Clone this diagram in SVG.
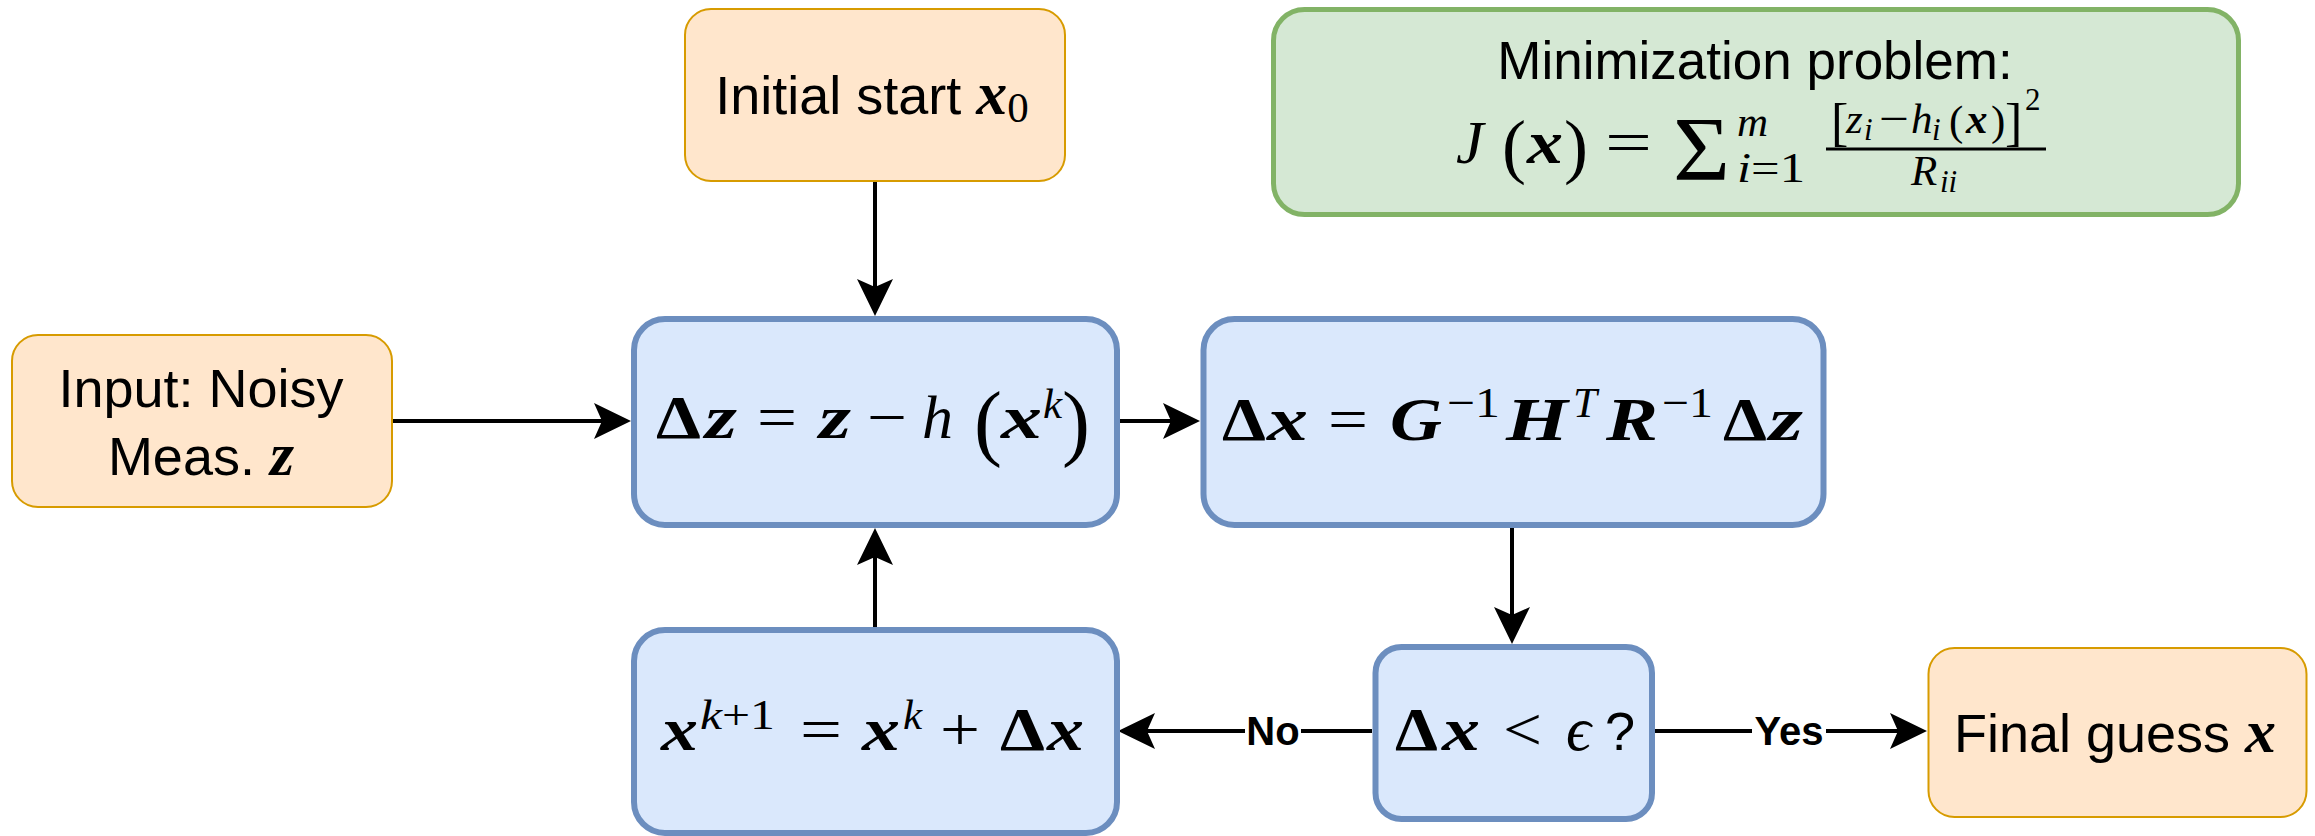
<svg xmlns="http://www.w3.org/2000/svg" width="2315" height="836" viewBox="0 0 2315 836">
<style>
.orange{fill:#ffe6cc;stroke:#d79b00;stroke-width:2}
.blue{fill:#dae8fc;stroke:#6c8ebf;stroke-width:6}
.green{fill:#d5e8d4;stroke:#82b366;stroke-width:5}
.sans{font-family:"Liberation Sans",Arial,sans-serif;font-size:54px;fill:#000}
.lbl{font-family:"Liberation Sans",Arial,sans-serif;font-size:40px;font-weight:bold;fill:#000}
.m{font-family:"Liberation Serif","Times New Roman",serif;font-size:62px;fill:#000}
.s{font-size:43px}
.ss{font-size:31px}
.bi{font-weight:bold;font-style:italic}
.it{font-style:italic}
.b{font-weight:bold}
.edge{fill:none;stroke:#000;stroke-width:4}
.bg{fill:#fff}
</style>
<defs>
<marker id="arr" markerUnits="userSpaceOnUse" markerWidth="40" markerHeight="40" viewBox="0 -20 40 40" refX="8" refY="0" orient="auto">
<path d="M37,0 L0,-18 L8,0 L0,18 Z" fill="#000"/>
</marker>
</defs>

<g id="connectors">
<path class="edge" d="M875,181 L875,287" marker-end="url(#arr)"/>
<path class="edge" d="M392,421 L602,421" marker-end="url(#arr)"/>
<path class="edge" d="M1120,421 L1171,421" marker-end="url(#arr)"/>
<path class="edge" d="M1512,528 L1512,615" marker-end="url(#arr)"/>
<path class="edge" d="M1372,731 L1147,731" marker-end="url(#arr)"/>
<path class="edge" d="M875,627 L875,557" marker-end="url(#arr)"/>
<path class="edge" d="M1655,731 L1898,731" marker-end="url(#arr)"/>
<g id="label-no"><rect class="bg" x="1245" y="712" width="56" height="38"/><text class="lbl" x="1273" y="745" text-anchor="middle">No</text></g>
<g id="label-yes"><rect class="bg" x="1752" y="712" width="74" height="38"/><text class="lbl" x="1789" y="745" text-anchor="middle">Yes</text></g>
</g>

<g id="node-initial">
<rect class="orange" x="685" y="9" width="380" height="172" rx="26"/>
<text class="sans" x="872" y="114" text-anchor="middle">Initial start <tspan class="m bi">x</tspan><tspan class="m s" dy="8">0</tspan></text>
</g>

<g id="node-minimization">
<rect class="green" x="1273.5" y="9.5" width="965" height="205" rx="31"/>
<text class="sans" x="1755" y="79" text-anchor="middle" style="font-size:53px">Minimization problem:</text>
<text class="m it" x="1456" y="163">J</text>
<text class="m" x="1502" y="170" style="font-size:72px">(</text>
<text class="m bi" x="1527" y="163" textLength="36" lengthAdjust="spacingAndGlyphs">x</text>
<text class="m" x="1564" y="170" style="font-size:72px">)</text>
<text class="m" x="1605" y="163" textLength="47" lengthAdjust="spacingAndGlyphs">=</text>
<text class="m" x="1673" y="180" style="font-size:92px" textLength="57" lengthAdjust="spacingAndGlyphs">Σ</text>
<text class="m s it" x="1737" y="136">m</text>
<text class="m s" x="1737" y="182" textLength="68" lengthAdjust="spacingAndGlyphs"><tspan class="it">i</tspan>=1</text>
<text class="m" x="1831" y="140" style="font-size:52px">[</text>
<text class="m s it" x="1846" y="133">z</text>
<text class="m ss it" x="1864" y="140">i</text>
<text class="m s" x="1879" y="133" textLength="30" lengthAdjust="spacingAndGlyphs">−</text>
<text class="m s it" x="1911" y="133">h</text>
<text class="m ss it" x="1932" y="140">i</text>
<text class="m s" x="1949" y="135">(</text>
<text class="m s bi" x="1966" y="133">x</text>
<text class="m s" x="1991" y="135">)</text>
<text class="m" x="2005" y="140" style="font-size:52px">]</text>
<text class="m ss" x="2025" y="110">2</text>
<line x1="1826" y1="149" x2="2046" y2="149" stroke="#000" stroke-width="3"/>
<text class="m s it" x="1911" y="185">R</text>
<text class="m ss it" x="1940" y="192">ii</text>
</g>

<g id="node-input">
<rect class="orange" x="12" y="335" width="380" height="172" rx="26"/>
<text class="sans" x="201" y="407" text-anchor="middle">Input: Noisy</text>
<text class="sans" x="201" y="475" text-anchor="middle">Meas. <tspan class="m bi">z</tspan></text>
</g>

<g id="node-dz">
<rect class="blue" x="634" y="319" width="483" height="206" rx="31"/>
<text class="m b" x="656" y="438" textLength="45" lengthAdjust="spacingAndGlyphs">Δ</text>
<text class="m bi" x="705" y="438" textLength="32" lengthAdjust="spacingAndGlyphs">z</text>
<text class="m" x="757" y="438" textLength="40" lengthAdjust="spacingAndGlyphs">=</text>
<text class="m bi" x="819" y="438" textLength="32" lengthAdjust="spacingAndGlyphs">z</text>
<text class="m" x="867" y="438" textLength="40" lengthAdjust="spacingAndGlyphs">−</text>
<text class="m it" x="922" y="438">h</text>
<text class="m" x="974" y="450" style="font-size:84px">(</text>
<text class="m bi" x="1001" y="438" textLength="41" lengthAdjust="spacingAndGlyphs">x</text>
<text class="m s it" x="1043" y="418">k</text>
<text class="m" x="1062" y="450" style="font-size:84px">)</text>
</g>

<g id="node-dx">
<rect class="blue" x="1203.5" y="319" width="620" height="206" rx="31"/>
<text class="m b" x="1222" y="440" textLength="44" lengthAdjust="spacingAndGlyphs">Δ</text>
<text class="m bi" x="1267" y="440" textLength="41" lengthAdjust="spacingAndGlyphs">x</text>
<text class="m" x="1328" y="440" textLength="40" lengthAdjust="spacingAndGlyphs">=</text>
<text class="m bi" x="1390" y="440" textLength="52" lengthAdjust="spacingAndGlyphs">G</text>
<text class="m s" x="1447" y="417" textLength="53" lengthAdjust="spacingAndGlyphs">−1</text>
<text class="m bi" x="1506" y="440" textLength="62" lengthAdjust="spacingAndGlyphs">H</text>
<text class="m s it" x="1573" y="417">T</text>
<text class="m bi" x="1606" y="440" textLength="52" lengthAdjust="spacingAndGlyphs">R</text>
<text class="m s" x="1662" y="417" textLength="51" lengthAdjust="spacingAndGlyphs">−1</text>
<text class="m b" x="1723" y="440" textLength="44" lengthAdjust="spacingAndGlyphs">Δ</text>
<text class="m bi" x="1769" y="440" textLength="34" lengthAdjust="spacingAndGlyphs">z</text>
</g>

<g id="node-update">
<rect class="blue" x="634" y="630" width="483" height="203" rx="31"/>
<text class="m bi" x="661" y="750" textLength="37" lengthAdjust="spacingAndGlyphs">x</text>
<text class="m s" x="700" y="729" textLength="75" lengthAdjust="spacingAndGlyphs"><tspan class="it">k</tspan>+1</text>
<text class="m" x="800" y="750" textLength="42" lengthAdjust="spacingAndGlyphs">=</text>
<text class="m bi" x="862" y="750" textLength="38" lengthAdjust="spacingAndGlyphs">x</text>
<text class="m s it" x="903" y="729">k</text>
<text class="m" x="940" y="750" textLength="40" lengthAdjust="spacingAndGlyphs">+</text>
<text class="m b" x="1000" y="750" textLength="45" lengthAdjust="spacingAndGlyphs">Δ</text>
<text class="m bi" x="1047" y="750" textLength="37" lengthAdjust="spacingAndGlyphs">x</text>
</g>

<g id="node-check">
<rect class="blue" x="1375.5" y="647" width="276.5" height="172" rx="26"/>
<text class="m b" x="1395" y="750" textLength="43" lengthAdjust="spacingAndGlyphs">Δ</text>
<text class="m bi" x="1442" y="750" textLength="38" lengthAdjust="spacingAndGlyphs">x</text>
<text class="m" x="1503" y="750" textLength="39" lengthAdjust="spacingAndGlyphs">&lt;</text>
<text class="m it" x="1566" y="750">ϵ</text>
<text class="sans" x="1605" y="750">?</text>
</g>

<g id="node-final">
<rect class="orange" x="1928.5" y="648" width="378" height="169" rx="26"/>
<text class="sans" x="2115" y="752" text-anchor="middle">Final guess <tspan class="m bi">x</tspan></text>
</g>
</svg>
